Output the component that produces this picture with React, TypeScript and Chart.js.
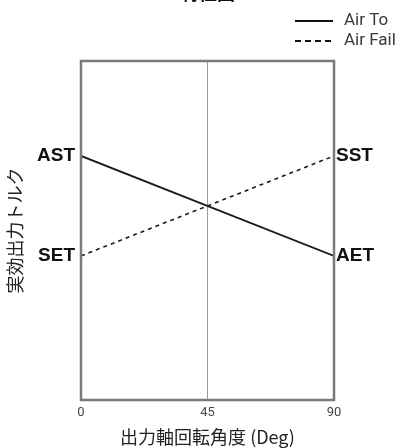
import React, { useEffect, useRef } from "react";
import { Chart, registerables } from "chart.js";

Chart.register(...registerables);

const angles = [0, 90];
const airTo = [72, 42.5];
const airFail = [42.5, 72];
const xTicks = [0, 45, 90];
const leftLabels = ["AST", "SET"];
const rightLabels = ["SST", "AET"];
const labelValues = [72, 42.5];
const chartTitle = "特性図";
const seriesNames = ["Air To", "Air Fail"];

const FRAME = "#7a7a7a";

const framePlugin = {
  id: "framePlugin",
  afterDatasetsDraw(chart: any) {
    const { ctx, chartArea: a } = chart;
    ctx.save();
    ctx.strokeStyle = FRAME;
    ctx.lineWidth = 2.5;
    ctx.strokeRect(a.left, a.top, a.right - a.left, a.bottom - a.top);
    ctx.restore();
  },
  afterDraw(chart: any) {
    const { ctx } = chart;
    ctx.save();
    // title (cut at the top in the reference)
    ctx.fillStyle = "#111";
    ctx.font = "bold 18px 'Noto Sans CJK JP', sans-serif";
    ctx.textAlign = "center";
    ctx.textBaseline = "alphabetic";
    ctx.fillText(chartTitle, 208, 0);
    // legend
    ctx.font = "17px 'Roboto', 'DejaVu Sans', sans-serif";
    ctx.textAlign = "left";
    ctx.textBaseline = "middle";
    chart.data.datasets.forEach((ds: any, i: number) => {
      const y = 21 + i * 20;
      ctx.strokeStyle = "#111";
      ctx.lineWidth = 1.8;
      ctx.setLineDash(i === 1 ? [6, 4] : []);
      ctx.beginPath();
      ctx.moveTo(295, y);
      ctx.lineTo(333, y);
      ctx.stroke();
      ctx.setLineDash([]);
      ctx.fillStyle = "#3a3a3a";
      ctx.fillText(ds.label, 344, y);
    });
    ctx.restore();
  },
};

export default function App() {
  const ref = useRef<HTMLCanvasElement>(null);
  useEffect(() => {
    if (!ref.current) return;
    const chart = new Chart(ref.current, {
      type: "line",
      data: {
        labels: angles,
        datasets: [
          {
            label: seriesNames[0],
            data: angles.map((x, i) => ({ x, y: airTo[i] })),
            borderColor: "#1a1a1a",
            borderWidth: 1.8,
            pointRadius: 0,
            yAxisID: "y",
          },
          {
            label: seriesNames[1],
            data: angles.map((x, i) => ({ x, y: airFail[i] })),
            borderColor: "#1a1a1a",
            borderWidth: 1.6,
            borderDash: [4, 4],
            pointRadius: 0,
            yAxisID: "y",
          },
        ],
      },
      options: {
        animation: false,
        responsive: false,
        devicePixelRatio: 1,
        layout: { padding: { top: 61, left: 0, right: 0, bottom: 0 } },
        plugins: { legend: { display: false }, title: { display: false }, tooltip: { enabled: false } },
        scales: {
          x: {
            type: "linear",
            min: 0,
            max: 90,
            afterBuildTicks: (s: any) => {
              s.ticks = xTicks.map((v) => ({ value: v }));
            },
            afterFit: (s: any) => {
              s.height = 48;
            },
            border: { display: false },
            grid: {
              color: (c: any) => (c.tick && c.tick.value === 45 ? "#9a9a9a" : "rgba(0,0,0,0)"),
              lineWidth: 1,
              drawTicks: false,
            },
            ticks: {
              color: "#444",
              font: { size: 13, family: "'Roboto', 'DejaVu Sans', sans-serif" },
              padding: 5,
              maxRotation: 0,
            },
            title: {
              display: true,
              text: "出力軸回転角度 (Deg)",
              color: "#222",
              font: { size: 18, family: "'Noto Sans CJK JP', sans-serif" },
              padding: { top: 2, bottom: 0 },
            },
          },
          y: {
            position: "left",
            min: 0,
            max: 100,
            afterBuildTicks: (s: any) => {
              s.ticks = labelValues.map((v) => ({ value: v }));
            },
            afterFit: (s: any) => {
              s.width = 81;
            },
            border: { display: false },
            grid: { display: false, drawTicks: false },
            ticks: {
              color: "#111",
              font: { size: 19, weight: "bold", family: "'Liberation Sans', Arial, sans-serif" },
              padding: 6,
              callback: (_v: any, i: number) => leftLabels[i],
            },
            title: {
              display: true,
              text: "実効出力トルク",
              color: "#222",
              font: { size: 18, family: "'Noto Sans CJK JP', sans-serif" },
              padding: { top: 4, bottom: 0 },
            },
          },
          y2: {
            position: "right",
            min: 0,
            max: 100,
            afterBuildTicks: (s: any) => {
              s.ticks = labelValues.map((v) => ({ value: v }));
            },
            afterFit: (s: any) => {
              s.width = 70;
            },
            border: { display: false },
            grid: { display: false, drawTicks: false },
            ticks: {
              color: "#111",
              font: { size: 19, weight: "bold", family: "'Liberation Sans', Arial, sans-serif" },
              padding: 2,
              callback: (_v: any, i: number) => rightLabels[i],
            },
          },
        },
      },
      plugins: [framePlugin],
    } as any);
    return () => chart.destroy();
  }, []);
  return (
    <div style={{ position: "absolute", left: 0, top: 0, width: 404, height: 448, background: "#fff" }}>
      <canvas ref={ref} width={404} height={448} style={{ width: 404, height: 448 }} />
    </div>
  );
}
